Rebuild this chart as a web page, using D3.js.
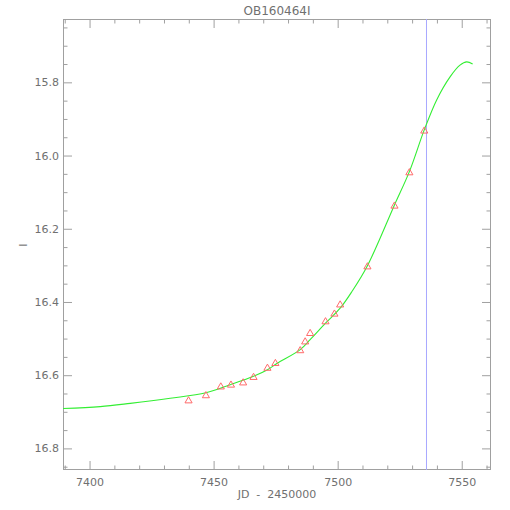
<!DOCTYPE html>
<html>
<head>
<meta charset="utf-8">
<script src="https://cdn.jsdelivr.net/npm/d3@7"></script>
<style>
  html, body { margin: 0; padding: 0; background: #fff; }
  svg { display: block; }
  text { font-family: "DejaVu Sans", sans-serif; fill: #707070; }
</style>
</head>
<body>
<svg id="chart" width="510" height="510"></svg>
<script>
// ---- data ----
const title = "OB160464I";
const xLabel = "JD  -  2450000";
const yLabel = "I";
const xDomain = [7389.3, 7561.8];
const yDomain = [15.627, 16.859];
const xMajorTicks = [7400, 7450, 7500, 7550];
const yMajorTicks = [15.8, 16.0, 16.2, 16.4, 16.6, 16.8];
const markerLine = 7535.8;

const obsJD  = [7439.9, 7446.9, 7452.9, 7457.0, 7461.9, 7466.1, 7471.7, 7474.9, 7484.9,
                7486.9, 7488.9, 7495.1, 7498.7, 7501.0, 7512.0, 7522.9, 7528.9, 7534.9];
const obsMag = [16.670, 16.656, 16.632, 16.627, 16.621, 16.606, 16.581, 16.568, 16.533,
                16.509, 16.486, 16.454, 16.433, 16.408, 16.304, 16.138, 16.047, 15.933];

const modelJD  = [7389.3, 7404.3, 7416.4, 7432.5, 7446.9, 7456.7, 7466.1, 7471.7, 7475.5,
                  7484.9, 7488.9, 7495.1, 7501.0, 7505.7, 7512.0, 7522.9, 7528.9, 7534.9,
                  7539.9, 7545.3, 7549.3, 7552.0, 7554.4];
const modelMag = [16.691, 16.686, 16.677, 16.663, 16.648, 16.626, 16.603, 16.585, 16.568,
                  16.530, 16.503, 16.458, 16.417, 16.372, 16.301, 16.135, 16.044, 15.930,
                  15.848, 15.785, 15.753, 15.744, 15.750];

// ---- layout ----
const W = 510, H = 510;
const m = { left: 63, right: 19, top: 19, bottom: 40 };
const svg = d3.select("#chart");
const x = d3.scaleLinear().domain(xDomain).range([m.left, W - m.right]);
const y = d3.scaleLinear().domain(yDomain).range([m.top, H - m.bottom]);
const axisColor = "#a0a0a0";
const majorLen = 9, minorLen = 4.5;

const xMinor = d3.range(7390, 7562, 10).filter(v => !xMajorTicks.includes(v));
const yMinor = d3.range(15.65, 16.86, 0.05).map(v => +v.toFixed(2))
  .filter(v => !yMajorTicks.some(t => Math.abs(t - v) < 1e-6));

function styleAxis(g) {
  g.select(".domain").remove();
  g.selectAll("line").attr("stroke", axisColor).attr("stroke-width", 1);
  g.selectAll("text").attr("fill", "#707070").style("font-size", "11px")
    .style("font-family", "'DejaVu Sans', sans-serif");
}

const innerH = H - m.top - m.bottom;
const innerW = W - m.left - m.right;

// bottom axis
svg.append("g").attr("transform", `translate(0,${H - m.bottom})`)
  .call(d3.axisBottom(x).tickValues(xMajorTicks).tickSizeInner(-majorLen).tickSizeOuter(0).tickPadding(8).tickFormat(d3.format("d")))
  .call(styleAxis);
svg.append("g").attr("transform", `translate(0,${H - m.bottom})`)
  .call(d3.axisBottom(x).tickValues(xMinor).tickSizeInner(-minorLen).tickSizeOuter(0).tickFormat(""))
  .call(styleAxis);
// top axis
svg.append("g").attr("transform", `translate(0,${m.top})`)
  .call(d3.axisTop(x).tickValues(xMajorTicks).tickSizeInner(-majorLen).tickSizeOuter(0).tickFormat(""))
  .call(styleAxis);
svg.append("g").attr("transform", `translate(0,${m.top})`)
  .call(d3.axisTop(x).tickValues(xMinor).tickSizeInner(-minorLen).tickSizeOuter(0).tickFormat(""))
  .call(styleAxis);
// left axis
svg.append("g").attr("transform", `translate(${m.left},0)`)
  .call(d3.axisLeft(y).tickValues(yMajorTicks).tickSizeInner(-majorLen).tickSizeOuter(0).tickPadding(4).tickFormat(d3.format(".1f")))
  .call(styleAxis);
svg.append("g").attr("transform", `translate(${m.left},0)`)
  .call(d3.axisLeft(y).tickValues(yMinor).tickSizeInner(-minorLen).tickSizeOuter(0).tickFormat(""))
  .call(styleAxis);
// right axis
svg.append("g").attr("transform", `translate(${W - m.right},0)`)
  .call(d3.axisRight(y).tickValues(yMajorTicks).tickSizeInner(-majorLen).tickSizeOuter(0).tickFormat(""))
  .call(styleAxis);
svg.append("g").attr("transform", `translate(${W - m.right},0)`)
  .call(d3.axisRight(y).tickValues(yMinor).tickSizeInner(-minorLen).tickSizeOuter(0).tickFormat(""))
  .call(styleAxis);

// frame
svg.append("rect").attr("x", m.left + 0.5).attr("y", m.top + 0.5)
  .attr("width", innerW - 1).attr("height", innerH - 1)
  .attr("fill", "none").attr("stroke", axisColor).attr("stroke-width", 1);

// clip
svg.append("clipPath").attr("id", "clip").append("rect")
  .attr("x", m.left).attr("y", m.top).attr("width", innerW).attr("height", innerH);
const plot = svg.append("g").attr("clip-path", "url(#clip)");

// vertical marker line
plot.append("line")
  .attr("x1", x(markerLine)).attr("x2", x(markerLine))
  .attr("y1", m.top).attr("y2", H - m.bottom)
  .attr("stroke", "#a8a8ff").attr("stroke-width", 1);

// model curve
const line = d3.line().x((d, i) => x(modelJD[i])).y((d, i) => y(modelMag[i]))
  .curve(d3.curveCatmullRom.alpha(0.5));
plot.append("path").datum(modelJD).attr("d", line)
  .attr("fill", "none").attr("stroke", "#33ee33").attr("stroke-width", 1.1);

// observations (open triangles)
const tri = d3.symbol().type(d3.symbolTriangle).size(22);
plot.selectAll("path.obs").data(obsJD).enter().append("path")
  .attr("class", "obs")
  .attr("d", tri)
  .attr("transform", (d, i) => `translate(${x(d)},${y(obsMag[i])})`)
  .attr("fill", "none").attr("stroke", "#ff6a6a").attr("stroke-width", 1);

// titles
svg.append("text").attr("x", 277).attr("y", 15).attr("text-anchor", "middle")
  .style("font-size", "12px").text(title);
svg.append("text").attr("x", 277).attr("y", 498).attr("text-anchor", "middle")
  .style("font-size", "11px").style("white-space", "pre").text(xLabel);
svg.append("text").attr("transform", "translate(27,245) rotate(-90)")
  .attr("text-anchor", "middle").style("font-size", "11px").text(yLabel);
</script>
</body>
</html>
